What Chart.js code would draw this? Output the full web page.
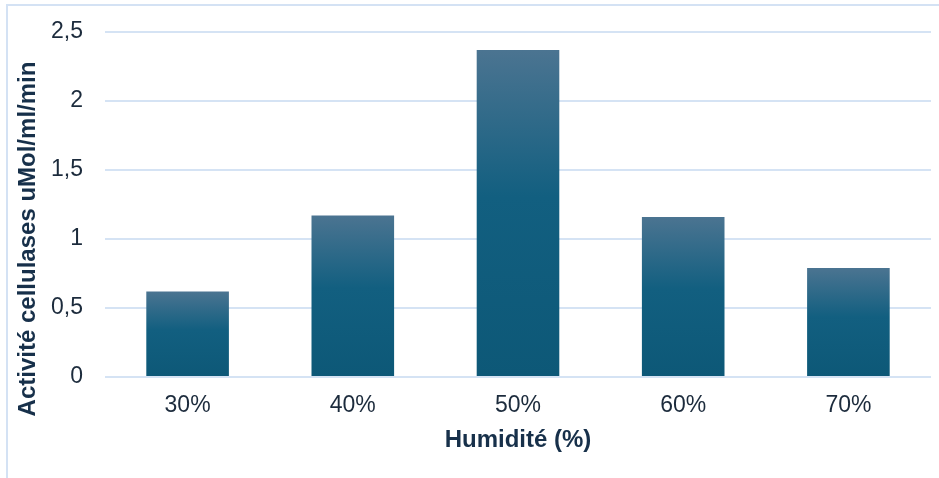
<!DOCTYPE html>
<html>
<head>
<meta charset="utf-8">
<script src="https://cdn.jsdelivr.net/npm/chart.js@4"></script>
<style>
  html, body { margin: 0; padding: 0; background: #fff; }
  #frame {
    position: absolute; left: 6px; top: 4px; width: 960px; height: 500px;
    border-left: 2px solid #d4e2f4; border-top: 2px solid #d4e2f4;
  }
  #wrap { position: absolute; left: 0; top: 0; width: 939px; height: 478px; }
</style>
</head>
<body>
<div id="frame"></div>
<div id="wrap"><canvas id="myChart" width="939" height="478"></canvas></div>
<script>
// humidity levels and measured cellulase activity
const humidite = ['30%', '40%', '50%', '60%', '70%'];
const activite = [0.62, 1.17, 2.37, 1.16, 0.79];
const yTicks = [0, 0.5, 1, 1.5, 2, 2.5];
const yTitle = 'Activité cellulases uMol/ml/min';

const textColor = '#1c2b3c';
const titleColor = '#17304a';
const gridColor = '#d5e3f4';
const fontFamily = 'Liberation Sans, Arial, sans-serif';

// each bar gets its own top-to-bottom gradient
function barFill(c) {
    const chart = c.chart;
    if (!chart.chartArea || c.raw === undefined) return '#125f80';
    const y = chart.scales.y;
    const top = y.getPixelForValue(c.raw);
    const base = y.getPixelForValue(0);
    const g = chart.ctx.createLinearGradient(0, top, 0, base);
    g.addColorStop(0, '#4b7491');
    g.addColorStop(0.45, '#125f80');
    g.addColorStop(1, '#0d5877');
    return g;
}

// vertical axis title, centred on the whole canvas height
const yTitlePlugin = {
    id: 'yTitle',
    afterDraw: function(chart) {
        const c = chart.ctx;
        c.save();
        c.translate(28, chart.height / 2);
        c.rotate(-Math.PI / 2);
        c.font = 'bold 24px ' + fontFamily;
        c.fillStyle = titleColor;
        c.textAlign = 'center';
        c.textBaseline = 'middle';
        c.fillText(yTitle, 0, 0);
        c.restore();
    }
};

const ctx = document.getElementById('myChart').getContext('2d');
const myChart = new Chart(ctx, {
    type: 'bar',
    data: {
        labels: humidite,
        datasets: [{
            data: activite,
            backgroundColor: barFill,
            borderWidth: 0,
            barPercentage: 0.5,
            categoryPercentage: 1
        }]
    },
    options: {
        responsive: false,
        animation: false,
        layout: { padding: { left: 14, top: 32, right: 8, bottom: 23 } },
        plugins: {
            legend: { display: false },
            tooltip: { enabled: false }
        },
        scales: {
            x: {
                grid: { display: false, drawTicks: false },
                border: { display: false },
                ticks: {
                    color: textColor,
                    padding: 15,
                    font: { family: fontFamily, size: 23 }
                },
                title: {
                    display: true,
                    text: 'Humidité (%)',
                    color: titleColor,
                    padding: { top: 4, bottom: 0 },
                    font: { family: fontFamily, size: 24, weight: 'bold' }
                },
                afterFit: function(s) { s.height = 78; }
            },
            y: {
                min: 0,
                max: 2.5,
                afterBuildTicks: function(s) { s.ticks = yTicks.map(v => ({ value: v })); },
                grid: { color: gridColor, lineWidth: 2, drawTicks: false },
                border: { display: false },
                ticks: {
                    color: textColor,
                    padding: 22,
                    font: { family: fontFamily, size: 23 },
                    callback: function(v) { return String(v).replace('.', ','); }
                },
                afterFit: function(s) {
                    s.width = 91;
                    // top/bottom label overflow is already covered by the layout padding
                    s.paddingTop = 0;
                    s.paddingBottom = 0;
                }
            }
        }
    },
    plugins: [yTitlePlugin]
});
</script>
</body>
</html>
